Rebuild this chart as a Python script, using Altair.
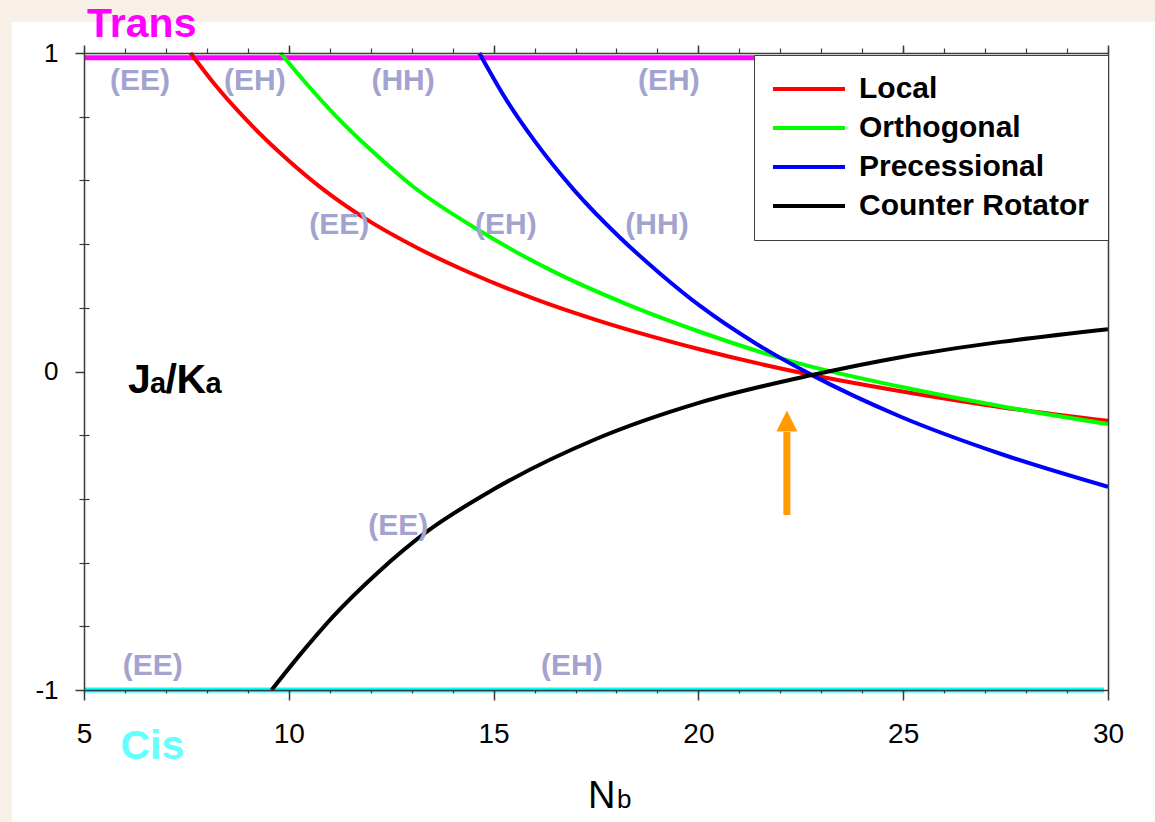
import altair as alt
import pandas as pd

# ---------------- data ----------------
SERIES = ["Local", "Orthogonal", "Precessional", "Counter Rotator"]
COLORS = ["#ff0000", "#00ff00", "#0000ff", "#000000"]

LOCAL_N = [7.6, 8.2, 9.0, 10.0, 10.84, 11.82, 13.2, 14.42, 16.0, 17.5, 20.05, 22.5, 24.94, 27.39, 30.0]
LOCAL_J = [1.0, 0.900, 0.785, 0.662, 0.572, 0.484, 0.384, 0.310, 0.228, 0.162, 0.069, -0.004, -0.062, -0.112, -0.155]

ORTHO_N = [9.8, 10.4, 11.18, 12.0, 13.04, 14.67, 16.38, 18.2, 20.05, 22.5, 24.94, 27.39, 30.0]
ORTHO_J = [1.0, 0.908, 0.798, 0.696, 0.580, 0.441, 0.319, 0.214, 0.124, 0.024, -0.048, -0.109, -0.165]

PREC_N = [14.65, 15.3, 16.0, 16.95, 18.09, 19.06, 20.05, 21.4, 22.74, 24.94, 27.39, 30.0]
PREC_J = [1.0, 0.855, 0.724, 0.572, 0.420, 0.308, 0.205, 0.088, -0.009, -0.142, -0.259, -0.362]

COUNTER_N = [9.58, 10.3, 11.09, 12.15, 13.37, 15.0, 17.5, 20.05, 22.74, 24.94, 27.39, 30.0]
COUNTER_J = [-1.0, -0.885, -0.768, -0.634, -0.503, -0.370, -0.212, -0.097, -0.012, 0.045, 0.093, 0.133]

TRANS_N = [5.0, 29.9]
TRANS_J = [0.985, 0.985]
CIS_N = [5.0, 29.9]
CIS_J = [-1.0, -1.0]

LABEL_TEXT = ["(EE)", "(EH)", "(HH)", "(EH)", "(EE)", "(EH)", "(HH)", "(EE)", "(EE)", "(EH)"]
LABEL_N = [6.37, 9.17, 12.79, 19.28, 11.23, 15.30, 18.99, 12.67, 6.68, 16.91]
LABEL_J = [0.911, 0.911, 0.911, 0.911, 0.460, 0.460, 0.460, -0.485, -0.925, -0.925]

ARROW_N = [22.16]
ARROW_FROM = [-0.4505]
ARROW_TO = [-0.19]
ARROW_HEAD = [-0.1554]

X_MAJOR = [5, 10, 15, 20, 25, 30]
X_MINOR = [5, 6, 7, 8, 9, 10, 11, 12, 13, 14, 15, 16, 17, 18, 19, 20,
           21, 22, 23, 24, 25, 26, 27, 28, 29, 30]
Y_MAJOR = [-1, 0, 1]
Y_ZERO = [0]
Y_MINOR = [-0.8, -0.6, -0.4, -0.2, 0.2, 0.4, 0.6, 0.8]

# ---------------- layout ----------------
W, H = 1024, 637
FONT = "Liberation Sans"
FRAME = "#3a3a3a"
HYPHEN = "replace(datum.label, '\u2212', '-')"

xs = alt.Scale(domain=[5, 30], nice=False, zero=False)
ys = alt.Scale(domain=[-1, 1], nice=False, zero=False)

frames = []
for name, n, j in [("Local", LOCAL_N, LOCAL_J), ("Orthogonal", ORTHO_N, ORTHO_J),
                   ("Precessional", PREC_N, PREC_J), ("Counter Rotator", COUNTER_N, COUNTER_J)]:
    frames.append(pd.DataFrame({"N": n, "J": j, "series": name}))
lines_df = pd.concat(frames, ignore_index=True)

trans_df = pd.DataFrame({"N": TRANS_N, "J": TRANS_J})
cis_df = pd.DataFrame({"N": CIS_N, "J": CIS_J})
labels_df = pd.DataFrame({"N": LABEL_N, "J": LABEL_J, "t": LABEL_TEXT})
arrow_df = pd.DataFrame({"N": ARROW_N, "J0": ARROW_FROM, "J1": ARROW_TO, "Jh": ARROW_HEAD})

common = dict(grid=False, title=None, zindex=2, tickCount=40)

ax_x_bottom = alt.Axis(orient="bottom", values=X_MAJOR, tickSize=10, tickWidth=1.5, tickColor=FRAME,
                       domain=True, domainColor=FRAME, domainWidth=1.5,
                       labelFont=FONT, labelFontSize=28, labelColor="black", labelPadding=20,
                       labelFlush=False, labelOverlap=False, format="d", labelExpr=HYPHEN, **common)
ax_y_left = alt.Axis(orient="left", values=Y_MAJOR, tickSize=9, tickWidth=1.5, tickColor=FRAME,
                     domain=True, domainColor=FRAME, domainWidth=1.5,
                     labelFont=FONT, labelFontSize=26, labelColor="black", labelPadding=17,
                     labelFlush=False, labelOverlap=False, format="d", labelExpr=HYPHEN, **common)
ax_y_zero = alt.Axis(orient="left", values=Y_ZERO, tickSize=9, tickWidth=1.5, tickColor=FRAME,
                     domain=False, labelFont=FONT, labelFontSize=26, labelColor="black", labelPadding=17,
                     labelFlush=False, labelOverlap=False, labelBound=False, labelExpr="'0'", **common)

ax_x_bottom_minor = alt.Axis(orient="bottom", values=X_MINOR, tickSize=3, tickWidth=1.2, tickColor=FRAME,
                             domain=False, labels=False, **common)
ax_y_left_minor = alt.Axis(orient="left", values=Y_MINOR, tickSize=5, tickWidth=1.2, tickColor=FRAME,
                           domain=False, labels=False, **common)

ax_x_inner = alt.Axis(orient="top", offset=-H, values=X_MINOR, tickSize=3, tickWidth=1.2, tickColor=FRAME,
                      domain=False, labels=False, grid=False, title=None, zindex=0, tickCount=40)
ax_y_inner = alt.Axis(orient="right", offset=-W, values=Y_MINOR, tickSize=5, tickWidth=1.2, tickColor=FRAME,
                      domain=False, labels=False, **common)

ax_x_top = alt.Axis(orient="top", values=X_MINOR, tickSize=5, tickWidth=1.2, tickColor=FRAME,
                    domain=True, domainColor=FRAME, domainWidth=1.5, labels=False, **common)
ax_y_right = alt.Axis(orient="right", ticks=False, labels=False,
                      domain=True, domainColor=FRAME, domainWidth=1.5, **common)

ax_x_top_major = alt.Axis(orient="top", values=X_MAJOR, tickSize=8, tickWidth=1.5, tickColor=FRAME,
                          domain=False, labels=False, **common)

# white panel behind the figure
panel = alt.Chart(pd.DataFrame({"a": [0]})).mark_rect(color="white").encode(
    x=alt.value(-72), x2=alt.value(1071), y=alt.value(-31), y2=alt.value(769)
)

lines = alt.Chart(lines_df).mark_line(strokeWidth=4, interpolate="monotone").encode(
    x=alt.X("N:Q", scale=xs, axis=ax_x_bottom),
    y=alt.Y("J:Q", scale=ys, axis=ax_y_left),
    color=alt.Color("series:N", scale=alt.Scale(domain=SERIES, range=COLORS),
                    legend=alt.Legend(orient="none", legendX=670, legendY=2, title=None,
                                      symbolType="M-3,0H3", symbolSize=576, symbolStrokeWidth=4,
                                      symbolOffset=21, labelOffset=35, labelLimit=500,
                                      labelFont=FONT, labelFontSize=30, labelFontWeight="bold",
                                      labelColor="black", rowPadding=9, padding=19,
                                      strokeColor="#404040", fillColor="white", zindex=3)),
)

trans = alt.Chart(trans_df).mark_line(color="#ff00ff", strokeWidth=5).encode(
    x=alt.X("N:Q", scale=xs, axis=ax_x_bottom_minor),
    y=alt.Y("J:Q", scale=ys, axis=ax_y_left_minor),
)
cis = alt.Chart(cis_df).mark_line(color="#00ffff", strokeWidth=5).encode(
    x=alt.X("N:Q", scale=xs, axis=ax_x_inner),
    y=alt.Y("J:Q", scale=ys, axis=ax_y_inner),
)

labels = alt.Chart(labels_df).mark_text(font=FONT, fontSize=30, fontWeight="bold", color="#a3a3cf",
                                        align="center", baseline="middle").encode(
    x=alt.X("N:Q", scale=xs, axis=ax_x_top),
    y=alt.Y("J:Q", scale=ys, axis=ax_y_right),
    text="t:N",
)

shaft = alt.Chart(arrow_df).mark_rule(color="#ff9a00", strokeWidth=7).encode(
    x=alt.X("N:Q", scale=xs, axis=ax_x_top_major),
    y=alt.Y("J0:Q", scale=ys, axis=ax_y_zero),
    y2="J1:Q",
)
head = alt.Chart(arrow_df).mark_point(shape="M0,-1L1,1L-1,1Z", size=441, filled=True,
                                      color="#ff9a00", opacity=1).encode(
    x=alt.X("N:Q", scale=xs, axis=None),
    y=alt.Y("Jh:Q", scale=ys, axis=None),
)

def text_layer(items, size, weight, color, align="left"):
    df = pd.DataFrame(items, columns=["t", "N", "J"])
    return alt.Chart(df).mark_text(font=FONT, fontSize=size, fontWeight=weight, color=color,
                                   align=align, baseline="alphabetic").encode(
        x=alt.X("N:Q", scale=xs, axis=None),
        y=alt.Y("J:Q", scale=ys, axis=None),
        text="t:N",
    )

trans_txt = text_layer([("Trans", 6.41, 1.050)], 41, "bold", "#ff00ff", "center")
cis_txt = text_layer([("Cis", 6.67, -1.2166)], 41, "bold", "#66ffff", "center")
ylab_big = text_layer([("J", 6.074, -0.0684), ("/", 6.990, -0.0684), ("K", 7.258, -0.0684)], 41, "bold", "black")
ylab_small = text_layer([("a", 6.611, -0.0684), ("a", 7.964, -0.0684)], 29, "bold", "black")
xlab_big = text_layer([("N", 17.305, -1.370)], 38, "normal", "black")
xlab_small = text_layer([("b", 18.01, -1.370)], 26, "normal", "black")

chart = alt.layer(
    panel, trans, cis, lines, labels, shaft, head,
    trans_txt, cis_txt, ylab_big, ylab_small, xlab_big, xlab_small,
).resolve_axis(x="independent", y="independent").properties(
    width=W, height=H,
    padding={"left": 84, "top": 53, "right": 47, "bottom": 132},
    autosize=alt.AutoSizeParams(type="none"),
    background="#f8f0e6",
).configure_view(stroke=None)

chart.save("out.html", embed_options={"renderer": "svg", "actions": False})
